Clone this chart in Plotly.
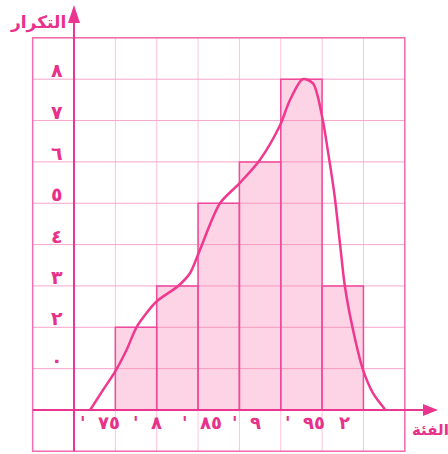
import plotly.graph_objects as go

# التكرار لكل فئة (الأعمدة تبدأ من الخانة ١ على المحور الأفقي)
bar_pos = [1.5, 2.5, 3.5, 4.5, 5.5, 6.5]
freq = [2, 3, 5, 6, 8, 3]

# المنحنى التكراري (مقروء من الصورة)
curve_x = [0.39, 0.70, 0.99, 1.27, 1.51, 1.75, 2.0, 2.52, 2.8, 3.04, 3.53,
           4.0, 4.49, 4.98, 5.22, 5.53, 5.78, 6.0, 6.15, 6.3, 6.43, 6.55,
           6.75, 6.99, 7.23, 7.52]
curve_y = [0.0, 0.48, 0.92, 1.45, 2.0, 2.34, 2.63, 3.0, 3.3, 3.86, 5.0,
           5.48, 6.04, 6.88, 7.49, 8.0, 7.9, 7.1, 6.2, 5.2, 4.05, 3.0,
           1.93, 0.97, 0.41, 0.02]

y_tick_vals = [1, 2, 3, 4, 5, 6, 7, 8]
y_tick_text = ["٠", "٢", "٣", "٤", "٥", "٦", "٧", "٨"]

x_tick_vals = [0.63, 1.77, 3.1, 4.16, 5.59, 6.53]
x_tick_text = ["'  ٧٥", "'  ٨", "'  ٨٥", "'  ٩", "'  ٩٥", "٢"]

PINK = "#ec3591"
TEXT = "#e8318a"
CELL = 41.35
W, H = 448, 454
X0, Y0 = 74, 410  # pixel position of the origin

fig = go.Figure()

fig.add_trace(go.Bar(
    x=bar_pos, y=freq, width=1,
    marker=dict(color="rgba(247,120,175,0.32)", line=dict(color="#f04a9c", width=1.5)),
    hoverinfo="skip",
))
fig.add_trace(go.Scatter(
    x=curve_x, y=curve_y, mode="lines",
    line=dict(color="#f0388f", width=2.5, shape="spline", smoothing=0.8),
    hoverinfo="skip",
))

shapes = []
# grid
for i in range(-1, 9):
    shapes.append(dict(type="line", x0=i, x1=i, y0=-1, y1=9, layer="below",
                       line=dict(color="#fbc3dc", width=1)))
for j in range(-1, 10):
    shapes.append(dict(type="line", x0=-1, x1=8, y0=j, y1=j, layer="below",
                       line=dict(color="#f8a6cb", width=1)))
# border
shapes.append(dict(type="rect", x0=-1, x1=8, y0=-1, y1=9, layer="above",
                   line=dict(color="#f26eb0", width=1.5)))
# axes
tip_y = (Y0 - 5) / CELL
tip_x = (438 - X0) / CELL
shapes.append(dict(type="line", x0=0, x1=0, y0=-1, y1=tip_y - 0.3, layer="above",
                   line=dict(color=PINK, width=2)))
shapes.append(dict(type="line", x0=-1, x1=tip_x - 0.3, y0=0, y1=0, layer="above",
                   line=dict(color=PINK, width=2)))
hw = 6 / CELL
shapes.append(dict(type="path", layer="above", fillcolor=PINK, line=dict(width=0),
                   path=f"M {-hw} {tip_y - 18 / CELL} L 0 {tip_y} L {hw} {tip_y - 18 / CELL} Z"))
shapes.append(dict(type="path", layer="above", fillcolor=PINK, line=dict(width=0),
                   path=f"M {tip_x - 15 / CELL} {-hw} L {tip_x} 0 L {tip_x - 15 / CELL} {hw} Z"))

annotations = []
for v, t in zip(y_tick_vals, y_tick_text):
    annotations.append(dict(x=-0.41, y=v, text=f"<b>{t}</b>", showarrow=False,
                            xanchor="center", yanchor="middle", yshift=9,
                            font=dict(family="DejaVu Sans", size=19, color=TEXT)))
for u, t in zip(x_tick_vals, x_tick_text):
    annotations.append(dict(x=u, y=-0.31, text=f"<b>{t}</b>", showarrow=False,
                            xanchor="center", yanchor="middle",
                            font=dict(family="DejaVu Sans", size=18, color=TEXT)))
annotations.append(dict(x=-0.87, y=9.38, text="<b>التكرار</b>", showarrow=False,
                        font=dict(family="DejaVu Sans", size=17, color=TEXT)))
annotations.append(dict(x=8.61, y=-0.48, text="<b>الفئة</b>", showarrow=False,
                        font=dict(family="DejaVu Sans", size=15, color=TEXT)))

fig.update_layout(
    width=W, height=H,
    margin=dict(l=0, r=0, t=0, b=0),
    paper_bgcolor="white", plot_bgcolor="white",
    showlegend=False,
    shapes=shapes,
    annotations=annotations,
    xaxis=dict(range=[-X0 / CELL, (W - X0) / CELL], visible=False, fixedrange=True),
    yaxis=dict(range=[(Y0 - H) / CELL, Y0 / CELL], visible=False, fixedrange=True),
)

# the page's default body margin would push the figure 8px off the window
fig.write_html("out.html", config={"displayModeBar": False},
               post_script="document.body.style.margin='0';")
